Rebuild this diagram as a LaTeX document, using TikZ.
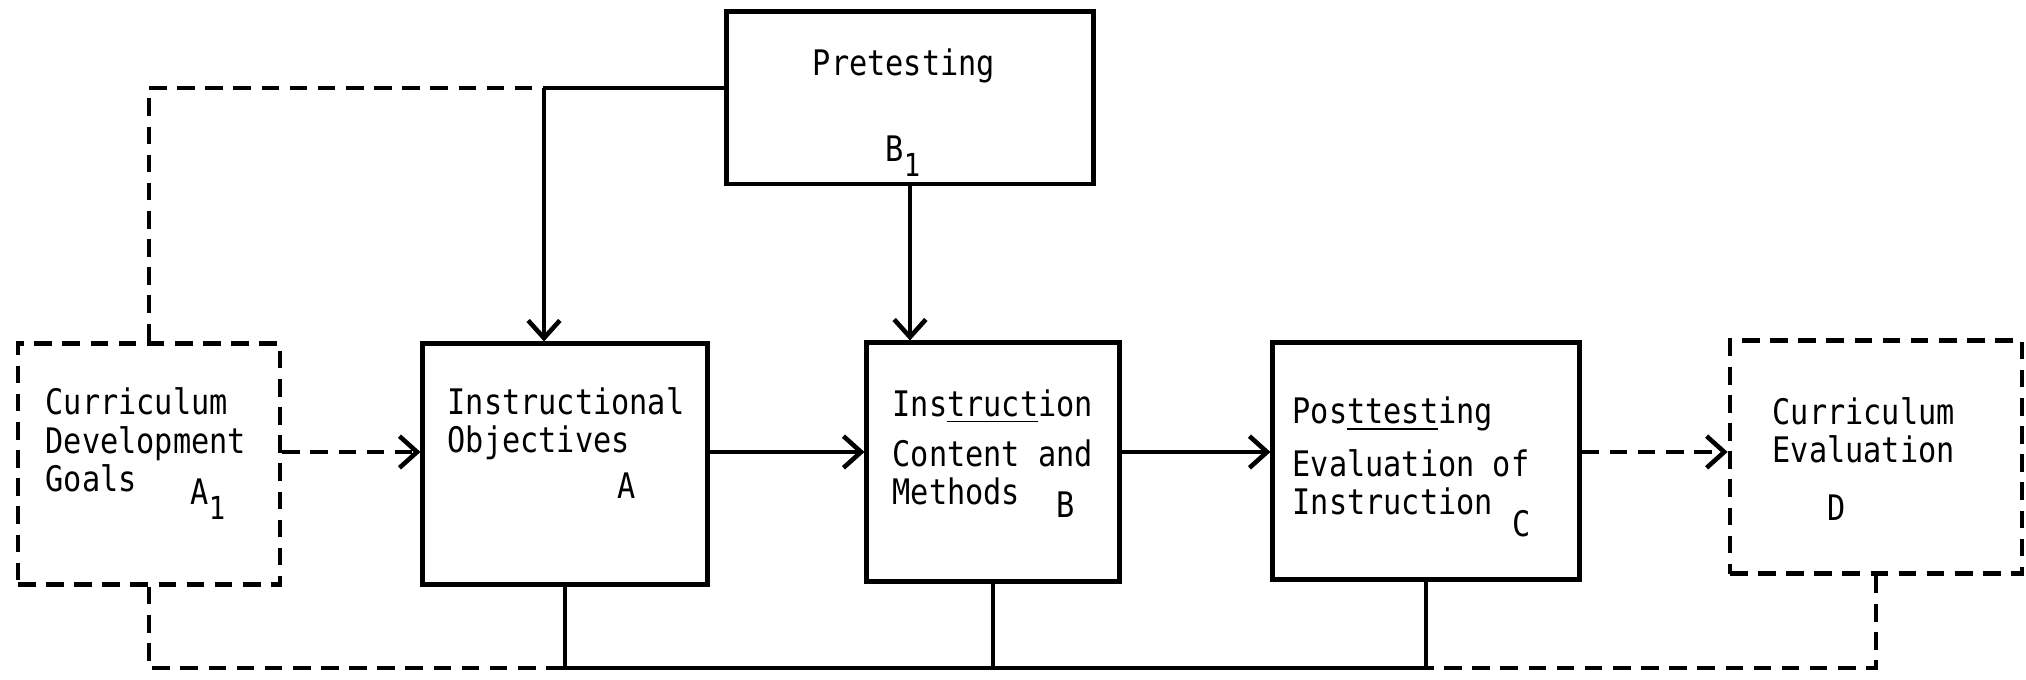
\documentclass[tikz,border=0pt]{standalone}
\usepackage{fontspec}
\newfontfamily\typewr[FakeStretch=0.86]{DejaVu Sans Mono}
\usetikzlibrary{arrows.meta}

\begin{document}
\begin{tikzpicture}[x=0.01cm, y=-0.01cm,
  >={Straight Barb[length=5pt,width=9pt]},
  blk/.style={draw, line width=1.4pt, inner sep=0pt},
  dbox/.style={draw, line width=1.3pt, dash pattern=on 5pt off 3pt, inner sep=0pt},
  wire/.style={line width=1.3pt},
  dwire/.style={line width=1.3pt, dash pattern=on 5pt off 3pt},
  txt/.style={inner sep=0pt, align=left, font=\typewr\fontsize{10}{11}\selectfont}]

\useasboundingbox (0,0) rectangle (2026,680);

% boxes
\node[dbox, minimum width=2.62cm, minimum height=2.41cm] (A1) at (149,464) {};
\node[blk, minimum width=2.84cm, minimum height=2.40cm] (A) at (565,464) {};
\node[blk, minimum width=2.52cm, minimum height=2.38cm] (B) at (993,462) {};
\node[blk, minimum width=3.06cm, minimum height=2.37cm] (C) at (1426,461) {};
\node[dbox, minimum width=2.92cm, minimum height=2.33cm] (D) at (1876,457) {};
\node[blk, minimum width=3.66cm, minimum height=1.72cm] (B1) at (910,98) {};

% texts (base = last line)
\node[txt, anchor=base west] (A1t) at (45,492) {Curriculum\\Development\\Goals};
\node[txt, anchor=base west] (A1l) at (190,505) {A\raisebox{-4pt}{\fontsize{9}{9}\selectfont 1}};
\node[txt, anchor=base west] (At) at (447,453) {Instructional\\Objectives};
\node[txt, anchor=base] (Al) at (627,499) {A};
\node[txt, anchor=base west] (Bt) at (892,505) {Ins\underline{truct}ion\\[3.2pt]Content and\\Methods};
\node[txt, anchor=base] (Bl) at (1066,518) {B};
\node[txt, anchor=base west] (Ct) at (1292,515) {Pos\underline{ttest}ing\\[4pt]Evaluation of\\Instruction};
\node[txt, anchor=base] (Cl) at (1522,537) {C};
\node[txt, anchor=base west] (Dt) at (1772,463) {Curriculum\\Evaluation};
\node[txt, anchor=base] (Dl) at (1837,521) {D};
\node[txt, anchor=base] (B1t) at (904,76) {Pretesting};
\node[txt, anchor=base west] (B1l) at (885,162) {B\raisebox{-4pt}{\fontsize{9}{9}\selectfont 1}};

\coordinate (row) at (0,452);
\coordinate (split) at (544,88);
\coordinate (low) at (0,668);

% main row
\draw[dwire, ->] (A1.east |- row) -- (A.west |- row);
\draw[wire, ->] (A.east |- row) -- (B.west |- row);
\draw[wire, ->] (B.east |- row) -- (C.west |- row);
\draw[dwire, ->] (C.east |- row) -- (D.west |- row);

% top
\draw[dwire] (A1.north) -- (A1.north |- split) -- (split);
\draw[wire] (split) -- (B1.west |- split);
\draw[wire, ->] (split) -- (split |- A.north);
\draw[wire, ->] (B1.south) -- (B1.south |- B.north);

% bottom
\draw[wire] (A.south) -- (A.south |- low) -- (C.south |- low) -- (C.south);
\draw[wire] (B.south) -- (B.south |- low);
\draw[dwire] (A1.south) -- (A1.south |- low) -- (A.south |- low);
\draw[dwire] (D.south) -- (D.south |- low) -- (C.south |- low);

\end{tikzpicture}
\end{document}
